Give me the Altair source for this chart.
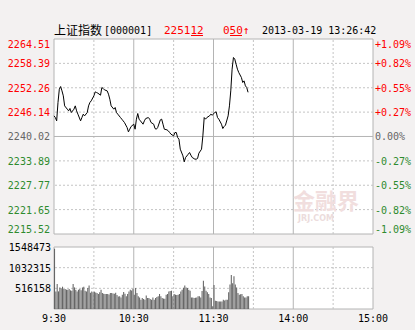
import altair as alt
import pandas as pd

# ---------------- data ----------------
prev_close = 2240.02
price_ticks = [2264.51, 2258.39, 2252.26, 2246.14, 2240.02, 2233.89, 2227.77, 2221.65, 2215.52]
pct_labels = ["+1.09%", "+0.82%", "+0.55%", "+0.27%", "0.00%", "-0.27%", "-0.55%", "-0.82%", "-1.09%"]
vol_ticks = [1548473, 1032315, 516158]
vol_labels = ["1548473", "1032315", "516158"]
time_ticks = [0, 60, 120, 180, 240]
time_labels = ["9:30", "10:30", "11:30", "14:00", "15:00"]
grid_dashed = [30, 90, 150, 210]
grid_solid = [60, 120, 180]

line_minutes = [0, 1, 2, 3, 4, 5, 6, 7, 8, 10, 11, 12, 13, 15, 16, 17, 18, 20, 21, 22, 23, 25, 26, 27, 28,
                30, 31, 32, 33, 35, 36, 37, 38, 40, 41, 42, 43, 45, 46, 47, 48, 50, 51, 52, 53, 55, 56, 57, 58,
                60, 61, 62, 63, 64, 65, 67, 68, 69, 71, 72, 73, 75, 76, 77, 78, 80, 81, 82, 83, 85, 86, 87, 88,
                90, 91, 92, 93, 94, 95, 97, 98, 99, 101, 102, 103, 104, 106, 107, 108, 109, 111, 112, 113, 114,
                115, 117, 118, 119, 121, 122, 123, 124, 126, 127, 128, 129, 131, 132, 133, 134, 135, 136, 137,
                138, 139, 141, 142, 143, 144, 145, 146]
line_prices = [2245.20, 2244.78, 2243.95, 2248.55, 2251.90, 2252.57, 2251.48, 2250.23, 2247.71, 2246.88,
               2246.46, 2247.05, 2246.04, 2246.88, 2247.71, 2246.46, 2245.62, 2243.95, 2244.78, 2245.62,
               2245.20, 2246.04, 2247.71, 2248.55, 2248.97, 2250.23, 2251.23, 2251.07, 2250.90, 2250.39,
               2252.32, 2252.07, 2251.73, 2251.48, 2250.65, 2249.39, 2247.71, 2246.88, 2247.30, 2246.04,
               2245.62, 2244.78, 2244.37, 2243.95, 2243.53, 2242.27, 2241.18, 2241.85, 2242.52, 2243.11,
               2241.85, 2244.37, 2245.79, 2244.37, 2243.95, 2243.11, 2243.95, 2244.53, 2244.78, 2244.37,
               2243.53, 2243.11, 2242.02, 2241.85, 2242.27, 2244.20, 2244.37, 2243.11, 2241.85, 2241.69,
               2241.43, 2241.02, 2240.60, 2240.18, 2241.02, 2241.02, 2239.76, 2239.34, 2236.83, 2235.15,
               2233.65, 2234.74, 2235.57, 2235.99, 2235.32, 2234.74, 2234.32, 2234.32, 2234.49, 2235.82,
               2236.83, 2240.18, 2244.78, 2244.37, 2244.78, 2245.20, 2245.62, 2245.37, 2246.04, 2246.21,
               2244.78, 2244.37, 2243.11, 2242.02, 2242.52, 2242.86, 2245.20, 2247.71, 2251.48, 2256.93,
               2259.86, 2259.44, 2258.18, 2256.93, 2256.09, 2254.83, 2253.58, 2253.99, 2252.74, 2252.32,
               2251.12]

volumes_k = [1506, 440, 624, 440, 540, 520, 557, 499, 499, 482, 482, 499, 466, 457, 624, 540, 480, 440,
             482, 499, 470, 540, 557, 457, 440, 524, 590, 407, 440, 420, 432, 410, 399, 374, 420, 482,
             399, 380, 374, 374, 374, 360, 399, 399, 390, 382, 407, 349, 315, 316, 290, 357, 424, 380,
             316, 375, 440, 482, 460, 507, 357, 524, 400, 316, 290, 232, 274, 250, 232, 340, 274, 274,
             250, 232, 290, 232, 274, 300, 316, 375, 316, 274, 260, 257, 357, 375, 440, 450, 457, 316,
             375, 357, 350, 357, 375, 440, 482, 530, 590, 540, 524, 482, 457, 290, 290, 274, 280, 290,
             316, 316, 290, 450, 707, 565, 457, 420, 375, 290, 274, 66, 597, 207, 200, 190, 190, 190,
             190, 232, 215, 232, 232, 420, 615, 850, 640, 815, 615, 540, 399, 357, 370, 375, 316, 290,
             290, 316, 316]

# ---------------- styling ----------------
RED = "#ff0000"
GREEN = "#2e8b2e"
GRAY = "#666666"
GRID = "#c4c4c4"
FRAME = "#b4b4b4"
MONO = "DejaVu Sans Mono"

x_scale = alt.Scale(domain=[0, 240], nice=False, zero=False)
p_scale = alt.Scale(domain=[price_ticks[-1], price_ticks[0]], range=[195, 0], nice=False, zero=False)
v_scale = alt.Scale(domain=[0, vol_ticks[0]], range=[270, 208], nice=False, zero=False)

def X(f):
    return alt.X(f, type="quantitative", scale=x_scale, axis=None)

def PY(f):
    return alt.Y(f, type="quantitative", scale=p_scale, axis=None)

def VY(f):
    return alt.Y(f, type="quantitative", scale=v_scale, axis=None)

one = pd.DataFrame({"x0": [0], "x1": [240], "p0": [price_ticks[-1]], "p1": [price_ticks[0]],
                    "v0": [0], "v1": [vol_ticks[0]]})

# frames
p_frame = alt.Chart(one).mark_rect(fill="white", stroke=FRAME, strokeWidth=1).encode(
    x=X("x0"), x2="x1", y=PY("p0"), y2="p1")
v_frame = alt.Chart(one).mark_rect(fill="white", stroke=FRAME, strokeWidth=1).encode(
    x=X("x0"), x2="x1", y=VY("v0"), y2="v1")

# horizontal grids
hdash = pd.DataFrame({"p": [t for t in price_ticks[1:-1] if t != prev_close]})
p_hgrid = alt.Chart(hdash).mark_rule(color=GRID, strokeDash=[2, 2], strokeWidth=1).encode(y=PY("p"))
p_zero = alt.Chart(pd.DataFrame({"p": [prev_close]})).mark_rule(color=FRAME, strokeWidth=1).encode(y=PY("p"))
v_hgrid = alt.Chart(pd.DataFrame({"v": vol_ticks[1:]})).mark_rule(
    color=GRID, strokeDash=[2, 2], strokeWidth=1).encode(y=VY("v"))

# vertical grids
def vgrid_df(ms):
    return pd.DataFrame({"m": ms, "p0": price_ticks[-1], "p1": price_ticks[0], "v0": 0, "v1": vol_ticks[0]})

vd = vgrid_df(grid_dashed)
vs = vgrid_df(grid_solid)
p_vd = alt.Chart(vd).mark_rule(color=GRID, strokeDash=[2, 2]).encode(x=X("m"), y=PY("p0"), y2="p1")
p_vs = alt.Chart(vs).mark_rule(color=FRAME).encode(x=X("m"), y=PY("p0"), y2="p1")
v_vd = alt.Chart(vd).mark_rule(color=GRID, strokeDash=[2, 2]).encode(x=X("m"), y=VY("v0"), y2="v1")
v_vs = alt.Chart(vs).mark_rule(color=FRAME).encode(x=X("m"), y=VY("v0"), y2="v1")

# price line
line_df = pd.DataFrame({"m": line_minutes, "p": line_prices})
price_line = alt.Chart(line_df).mark_line(color="black", strokeWidth=1).encode(x=X("m"), y=PY("p"))

# volume bars
vol_df = pd.DataFrame({"m": list(range(len(volumes_k))), "v": [v * 1000 for v in volumes_k]})
vol_df["m2"] = vol_df["m"] + 0.8
vol_df["z"] = 0
vol_bars = alt.Chart(vol_df).mark_rect(color="#666666").encode(
    x=X("m"), x2="m2", y=VY("v"), y2="z")

# price & percent labels
def col(p):
    if p > prev_close + 0.01:
        return RED
    if p < prev_close - 0.01:
        return GREEN
    return GRAY

lab = pd.DataFrame({"p": price_ticks, "t": [f"{p:.2f}" for p in price_ticks], "pct": pct_labels,
                    "c": [col(p) for p in price_ticks], "i": list(range(len(price_ticks)))})

def side_labels(field, xpos, align):
    out = []
    for cond, base, dy in [("datum.i == 0", "top", 1), ("datum.i > 0 && datum.i < 8", "middle", 1),
                           ("datum.i == 8", "bottom", 1)]:
        out.append(alt.Chart(lab).transform_filter(cond).mark_text(
            font=MONO, fontSize=10, align=align, baseline=base, dy=dy).encode(
            x=alt.value(xpos), y=PY("p"), text=f"{field}:N", color=alt.Color("c:N", scale=None)))
    return out

left_labels = side_labels("t", -4, "right")
right_labels = side_labels("pct", 321, "left")

vlab = pd.DataFrame({"v": vol_ticks, "t": vol_labels})
vol_labels_layer = alt.Chart(vlab).mark_text(font=MONO, fontSize=10, align="right", baseline="middle",
                                             dy=1, color="black").encode(
    x=alt.value(-3), y=VY("v"), text="t:N")

tlab = pd.DataFrame({"m": time_ticks, "t": time_labels})
time_layer = alt.Chart(tlab).mark_text(font=MONO, fontSize=10, align="center", baseline="middle",
                                       color="black").encode(
    x=X("m"), y=alt.value(280), text="t:N")

# header texts
d = pd.DataFrame({"a": [0]})
def txt(s, x, color="black", size=10, font=MONO, weight="normal"):
    return alt.Chart(d).mark_text(text=s, font=font, fontSize=size, color=color, align="left",
                                  baseline="middle", fontWeight=weight).encode(
        x=alt.value(x), y=alt.value(-8))

h1 = txt("上证指数", 0, size=12, font="Noto Sans CJK SC")
h2 = txt("[000001]", 50)
h3 = txt("225112", 110, color=RED, size=11)
h4 = txt("050↑", 169, color=RED, size=11)
h5 = txt("2013-03-19 13:26:42", 208)
u1 = alt.Chart(d).mark_rule(color=RED).encode(x=alt.value(137), x2=alt.value(149), y=alt.value(-3.5))
u2 = alt.Chart(d).mark_rule(color=RED).encode(x=alt.value(176), x2=alt.value(188), y=alt.value(-3.5))

# watermark
w1 = alt.Chart(d).mark_text(text="金融界", font="Noto Sans CJK SC", fontSize=22, fontWeight="bold",
                            color="#f1dede", align="center", baseline="middle").encode(
    x=alt.value(272), y=alt.value(163))
w2 = alt.Chart(d).mark_text(text="JRJ.COM", font="DejaVu Sans", fontSize=8, fontWeight="bold",
                            color="#ecdcdc", align="center", baseline="middle").encode(
    x=alt.value(262), y=alt.value(180))

layers = [p_frame, v_frame, p_hgrid, v_hgrid, p_vd, v_vd, p_vs, v_vs, p_zero, w1, w2,
          vol_bars, price_line] + left_labels + right_labels + [vol_labels_layer, time_layer,
          h1, h2, h3, h4, h5, u1, u2]

chart = alt.layer(*layers).resolve_scale(y="independent").properties(
    width=319, height=270,
    autosize=alt.AutoSizeParams(type="none"),
    padding={"left": 54, "top": 39, "right": 42, "bottom": 21},
    background="#f3f1f1",
).configure_view(strokeWidth=0, fill=None)

chart.save("out.html", embed_options={"renderer": "svg", "actions": False})
